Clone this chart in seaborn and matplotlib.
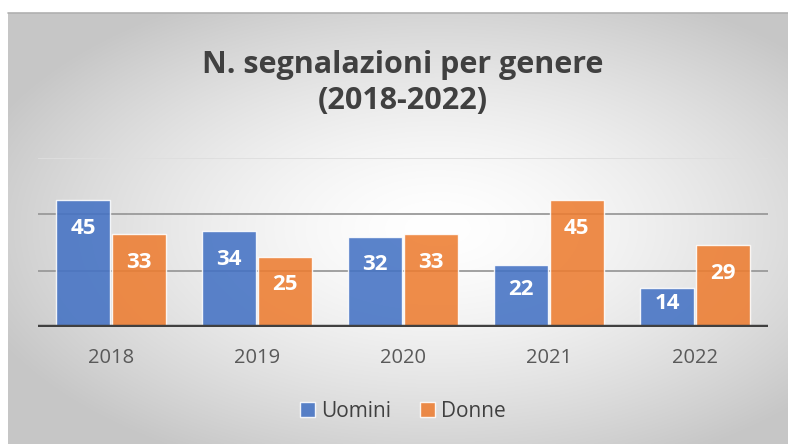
import numpy as np
import pandas as pd
import matplotlib
matplotlib.use("Agg")
import matplotlib.pyplot as plt
import seaborn as sns
from matplotlib.patches import Patch

years = ["2018", "2019", "2020", "2021", "2022"]
uomini = [45, 34, 32, 22, 14]
donne = [33, 25, 33, 45, 29]
series_names = ["Uomini", "Donne"]
title = "N. segnalazioni per genere\n(2018-2022)"

df = pd.DataFrame({
    "Anno": years * 2,
    "Valore": uomini + donne,
    "Genere": [series_names[0]] * len(years) + [series_names[1]] * len(years),
})

sns.set_theme(style="white")
plt.rcParams["font.family"] = ["Open Sans", "DejaVu Sans"]

W, H = 788, 444
fig = plt.figure(figsize=(W / 100, H / 100), dpi=100)
fig.patch.set_facecolor("white")

# gradient background panel
bg = fig.add_axes([8 / W, 0, 1 - 8 / W, 1 - 13 / H])
bg.set_axis_off()
ny, nx = 300, 600
yy, xx = np.mgrid[0:ny, 0:nx]
cx, cy = 0.55 * nx, 0.50 * ny
r = np.sqrt(((xx - cx) / (0.62 * nx)) ** 2 + ((yy - cy) / (0.60 * ny)) ** 2)
r = np.clip(r, 0, 1)
val = 1.0 - 0.22 * r ** 1.5
img = np.dstack([val, val, val])
bg.imshow(img, aspect="auto", extent=[0, 1, 0, 1], interpolation="bilinear")
bg.plot([0, 1], [1, 1], color="#b0b0b0", lw=1.2, transform=bg.transAxes, clip_on=False)

ax = fig.add_axes([38 / W, 1 - 327 / H, (768 - 38) / W, (327 - 158) / H])
ax.patch.set_alpha(0)

palette = {"Uomini": "#4472C4", "Donne": "#ED7D31"}
sns.barplot(data=df, x="Anno", y="Valore", hue="Genere", palette=palette,
            saturation=1, width=0.76, gap=0.03, alpha=0.88,
            edgecolor=(1, 1, 1, 0.6), linewidth=1.0, ax=ax, legend=False, zorder=3)

ax.set_ylim(0, 60)
ax.set_xlim(-0.5, 4.5)
for yv, c in [(20, "#9a9a9a"), (40, "#9a9a9a"), (60, "#dedede")]:
    ax.axhline(yv, color=c, lw=1.3, zorder=1)
ax.axhline(0, color="#404040", lw=3.2, zorder=5)

for s in ax.spines.values():
    s.set_visible(False)
ax.set_yticks([])
ax.set_xlabel("")
ax.set_ylabel("")
ax.tick_params(axis="x", length=0, pad=15, labelsize=14.5, labelcolor="#595959")

# data labels
px_per_unit = (327 - 158) / 60
for p in ax.patches:
    h = p.get_height()
    if h <= 0:
        continue
    hpx = h * px_per_unit
    off = min(28, hpx * 0.4)
    ax.annotate(f"{int(round(h))}", xy=(p.get_x() + p.get_width() / 2, h),
                xytext=(0, -off), textcoords="offset pixels",
                ha="center", va="center", color="white",
                fontsize=16, fontweight="bold", zorder=6)

fig.text(403 / W, 1 - 83 / H, title, ha="center", va="center",
         fontsize=22, fontweight="bold", color="#404040", linespacing=1.3)

# legend
handles = [Patch(facecolor=palette[n], alpha=0.88, edgecolor=(1, 1, 1, 0.6)) for n in series_names]
fig.legend(handles, series_names, loc="center", bbox_to_anchor=(403 / W, 1 - 411 / H),
           ncol=2, frameon=False, fontsize=15, labelcolor="#404040",
           handlelength=0.7, handleheight=0.7, handletextpad=0.3, columnspacing=1.4)

fig.savefig("out.png", dpi=100)
